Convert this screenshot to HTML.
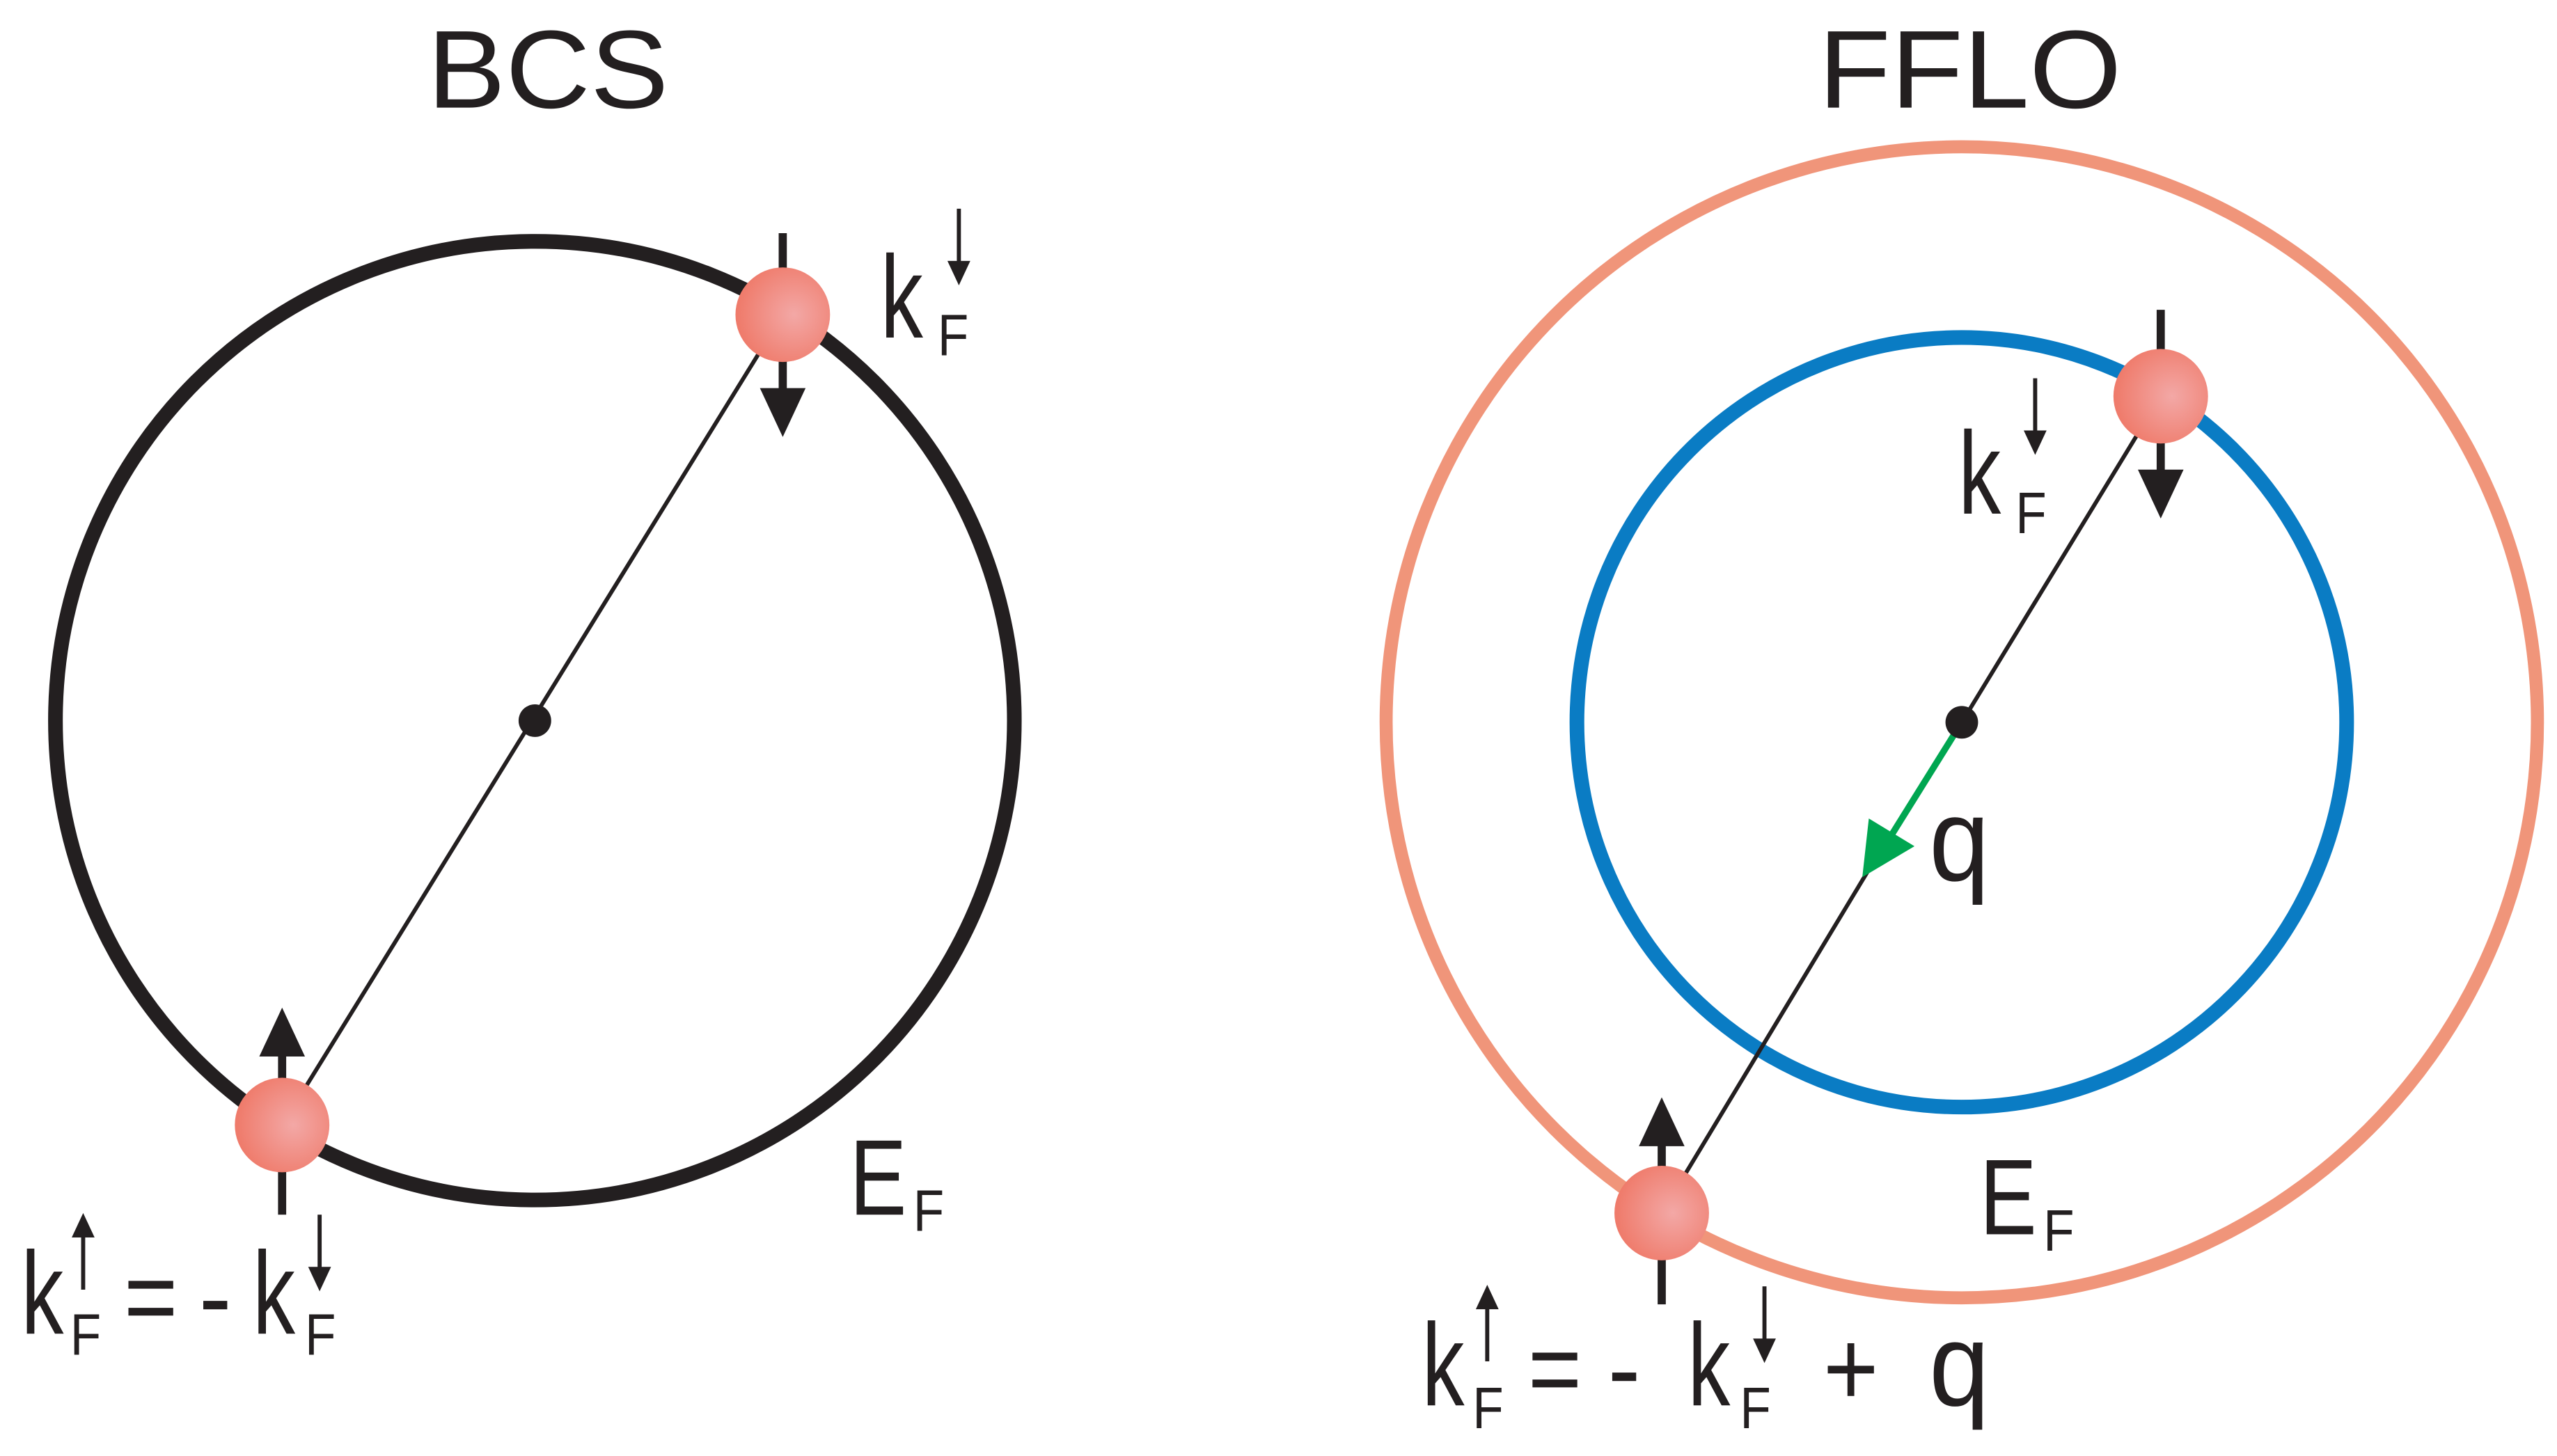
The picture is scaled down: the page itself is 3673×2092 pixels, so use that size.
<!DOCTYPE html>
<html><head><meta charset="utf-8"><style>
html,body{margin:0;padding:0;background:#fff}
svg{display:block}
text{font-family:"Liberation Sans",sans-serif;fill:#231f20}
</style></head><body>
<svg width="3673" height="2092" viewBox="0 0 1568 893" xmlns="http://www.w3.org/2000/svg">
<defs>
<radialGradient id="b" cx="0.62" cy="0.5" r="0.6">
<stop offset="0" stop-color="#f3a8a6"/><stop offset="1" stop-color="#ef7b6b"/>
</radialGradient>
<g id="up"><line x1="0" y1="12" x2="0" y2="46" stroke="#231f20" stroke-width="2.5"/><polygon points="-7,14 7,14 0,-1" fill="#231f20"/></g>
<g id="dn"><line x1="0" y1="0" x2="0" y2="34" stroke="#231f20" stroke-width="2.5"/><polygon points="-7,32 7,32 0,47" fill="#231f20"/></g>
</defs>
<text x="262" y="66" font-size="68" textLength="148" lengthAdjust="spacingAndGlyphs">BCS</text>
<text x="1115" y="66" font-size="68" textLength="186" lengthAdjust="spacingAndGlyphs">FFLO</text>

<!-- BCS -->
<circle cx="328" cy="442" r="294" fill="none" stroke="#231f20" stroke-width="9"/>
<line x1="480" y1="193" x2="173" y2="690" stroke="#231f20" stroke-width="2.5"/>
<circle cx="328" cy="442" r="10" fill="#231f20"/>
<line x1="480" y1="143" x2="480" y2="240" stroke="#231f20" stroke-width="5"/>
<polygon points="466,238 494,238 480,268" fill="#231f20"/>
<line x1="173" y1="640" x2="173" y2="745" stroke="#231f20" stroke-width="5"/>
<polygon points="159,648 187,648 173,618" fill="#231f20"/>
<circle cx="480" cy="193" r="29" fill="url(#b)"/>
<circle cx="173" cy="690" r="29" fill="url(#b)"/>
<text x="540" y="207" font-size="72" textLength="26" lengthAdjust="spacingAndGlyphs">k</text>
<text x="575" y="218" font-size="36" textLength="19" lengthAdjust="spacingAndGlyphs">F</text>
<use href="#dn" x="588" y="128"/>
<text x="521" y="745" font-size="66" textLength="35" lengthAdjust="spacingAndGlyphs">E</text>
<text x="560" y="755" font-size="36" textLength="19" lengthAdjust="spacingAndGlyphs">F</text>
<text x="13" y="818" font-size="72" textLength="26" lengthAdjust="spacingAndGlyphs">k</text>
<text x="43" y="831" font-size="36" textLength="19" lengthAdjust="spacingAndGlyphs">F</text>
<use href="#up" x="51" y="745"/>
<text x="76" y="818" font-size="66" textLength="33" lengthAdjust="spacingAndGlyphs">=</text>
<text x="122" y="818" font-size="66" textLength="20" lengthAdjust="spacingAndGlyphs">-</text>
<text x="155" y="818" font-size="72" textLength="26" lengthAdjust="spacingAndGlyphs">k</text>
<text x="187" y="831" font-size="36" textLength="19" lengthAdjust="spacingAndGlyphs">F</text>
<use href="#dn" x="196" y="745"/>

<!-- FFLO -->
<circle cx="1203" cy="443" r="353" fill="none" stroke="#f0957a" stroke-width="8"/>
<circle cx="1203" cy="443" r="236" fill="none" stroke="#0a7cc4" stroke-width="9"/>
<line x1="1325" y1="243" x2="1203" y2="443" stroke="#231f20" stroke-width="2.5"/>
<line x1="1145" y1="535" x2="1019" y2="744" stroke="#231f20" stroke-width="2.5"/>
<line x1="1203" y1="443" x2="1160" y2="512" stroke="#00a651" stroke-width="4"/>
<polygon points="1142,538 1146,502 1174,519" fill="#00a651"/>
<circle cx="1203" cy="443" r="10" fill="#231f20"/>
<line x1="1325" y1="190" x2="1325" y2="290" stroke="#231f20" stroke-width="5"/>
<polygon points="1311,288 1339,288 1325,318" fill="#231f20"/>
<line x1="1019" y1="695" x2="1019" y2="800" stroke="#231f20" stroke-width="5"/>
<polygon points="1005,703 1033,703 1019,673" fill="#231f20"/>
<circle cx="1325" cy="243" r="29" fill="url(#b)"/>
<circle cx="1019" cy="744" r="29" fill="url(#b)"/>
<text x="1201" y="315" font-size="72" textLength="26" lengthAdjust="spacingAndGlyphs">k</text>
<text x="1236" y="327" font-size="36" textLength="19" lengthAdjust="spacingAndGlyphs">F</text>
<use href="#dn" x="1248" y="232"/>
<text x="1183" y="540" font-size="72" textLength="37" lengthAdjust="spacingAndGlyphs">q</text>
<text x="1214" y="757" font-size="66" textLength="35" lengthAdjust="spacingAndGlyphs">E</text>
<text x="1253" y="767" font-size="36" textLength="19" lengthAdjust="spacingAndGlyphs">F</text>
<text x="872" y="862" font-size="72" textLength="26" lengthAdjust="spacingAndGlyphs">k</text>
<text x="903" y="876" font-size="36" textLength="19" lengthAdjust="spacingAndGlyphs">F</text>
<use href="#up" x="912" y="789"/>
<text x="937" y="862" font-size="66" textLength="33" lengthAdjust="spacingAndGlyphs">=</text>
<text x="986" y="862" font-size="66" textLength="20" lengthAdjust="spacingAndGlyphs">-</text>
<text x="1035" y="862" font-size="72" textLength="26" lengthAdjust="spacingAndGlyphs">k</text>
<text x="1067" y="876" font-size="36" textLength="19" lengthAdjust="spacingAndGlyphs">F</text>
<use href="#dn" x="1082" y="789"/>
<text x="1118" y="862" font-size="66" textLength="34" lengthAdjust="spacingAndGlyphs">+</text>
<text x="1183" y="862" font-size="72" textLength="37" lengthAdjust="spacingAndGlyphs">q</text>
</svg>
</body></html>
